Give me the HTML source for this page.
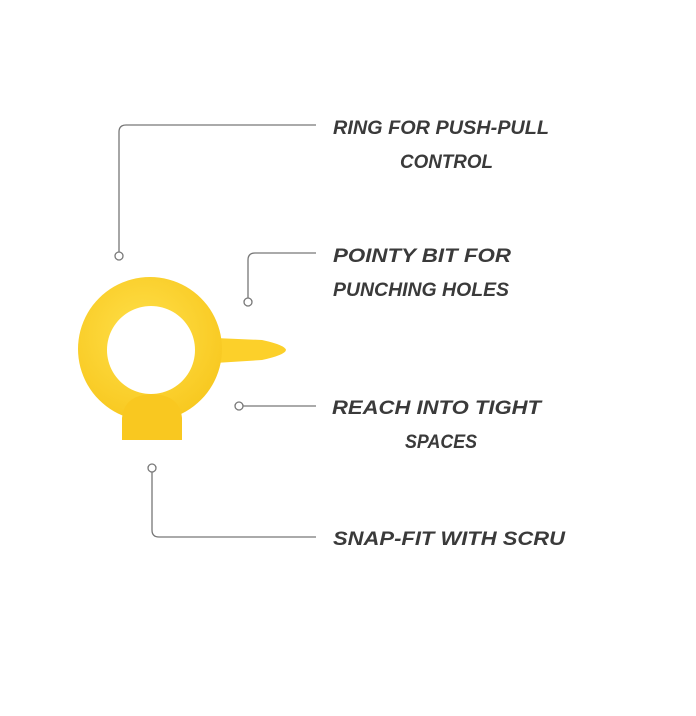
<!DOCTYPE html>
<html><head><meta charset="utf-8"><style>
html,body{margin:0;padding:0;background:#fff;}
svg{display:block}
text{font-family:"Liberation Sans",sans-serif;font-style:italic;font-weight:bold;font-size:19px;fill:#3a3a3a;}
</style></head><body>
<svg width="696" height="716" viewBox="0 0 696 716" xmlns="http://www.w3.org/2000/svg">
<defs>
<radialGradient id="g" cx="0.45" cy="0.4" r="0.7">
<stop offset="0" stop-color="#ffe04a"/><stop offset="1" stop-color="#f7c51a"/>
</radialGradient>
</defs>
<g fill="none" stroke="#777" stroke-width="1.3">
<path d="M316 125 H126 Q119 125 119 132 V252"/>
<circle cx="119" cy="256" r="4" fill="#fff"/>
<path d="M316 253 H255 Q248 253 248 260 V298"/>
<circle cx="248" cy="302" r="4" fill="#fff"/>
<path d="M316 406 H243"/>
<circle cx="239" cy="406" r="4" fill="#fff"/>
<path d="M316 537 H159 Q152 537 152 530 V472"/>
<circle cx="152" cy="468" r="4" fill="#fff"/>
</g>
<g fill="#fcd02a">
<path d="M215 338 L262 340 Q285 345 286 350 Q285 355 262 360 L215 363 Z"/>
<path fill-rule="evenodd" d="M150 277 a72 72 0 1 0 0.01 0 Z M151 306 a44 44 0 1 1 -0.01 0 Z" fill="url(#g)"/>
<path d="M122 418 Q124 395 152 394 Q180 395 182 418 V440 H122 Z" fill="#f9c820"/>
</g>
<text x="333" y="134" textLength="216" lengthAdjust="spacingAndGlyphs">RING FOR PUSH-PULL</text>
<text x="400" y="168" textLength="93" lengthAdjust="spacingAndGlyphs">CONTROL</text>
<text x="333" y="262" textLength="178" lengthAdjust="spacingAndGlyphs">POINTY BIT FOR</text>
<text x="333" y="296" textLength="176" lengthAdjust="spacingAndGlyphs">PUNCHING HOLES</text>
<text x="332" y="414" textLength="209" lengthAdjust="spacingAndGlyphs">REACH INTO TIGHT</text>
<text x="405" y="448" textLength="72" lengthAdjust="spacingAndGlyphs">SPACES</text>
<text x="333" y="545" textLength="232" lengthAdjust="spacingAndGlyphs">SNAP-FIT WITH SCRU</text>
</svg>
</body></html>
